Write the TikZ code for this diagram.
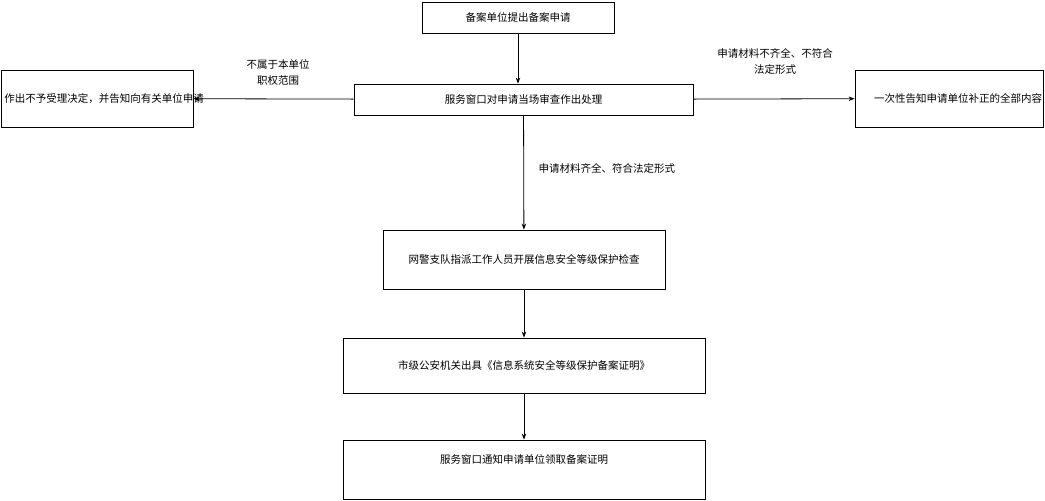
\documentclass[tikz,border=0pt]{standalone}
\usepackage{fontspec}
\newfontfamily\cjk{Noto Sans CJK SC}
\usetikzlibrary{arrows.meta}
\tikzset{
    stepbox/.style = {draw, thick, minimum height = #1, inner sep = 2pt, align = center},
    lbl/.style = {font = \cjk\fontsize{10.5pt}{16pt}\selectfont, align = center},
    flow/.style = {-{Stealth[length = 6pt]}, thick}
}
\begin{document}
\begin{tikzpicture}[x = 1pt, y = -1pt, font = \cjk\fontsize{10.5pt}{16pt}\selectfont]
        \useasboundingbox (0, 0) rectangle (1045, 501);
        \node (apply) [stepbox = 31pt, minimum width = 192pt] at (518, 17.5) {备案单位提出备案申请};
        \node (check) [stepbox = 31pt, minimum width = 339pt] at (523.5, 99.5) {服务窗口对申请当场审查作出处理};
        \node (reject) [stepbox = 57pt, minimum width = 192pt, text width = 185pt] at (97, 98.5) {作出不予受理决定，并告知向有关单位申请};
        \node (notify) [stepbox = 57pt, minimum width = 188pt, text width = 150pt] at (949, 98.5) {一次性告知申请单位补正的全部内容};
        \node (inspect) [stepbox = 59pt, minimum width = 282pt, text width = 270pt] at (524, 259.5) {网警支队指派工作人员开展信息安全等级保护检查};
        \node (cert) [stepbox = 55pt, minimum width = 362pt, text width = 350pt] at (524, 365.5) {市级公安机关出具《信息系统安全等级保护备案证明》};
        \node (fetch) [stepbox = 59pt, minimum width = 362pt] at (524, 469.5) {};
        \node (fetchtext) at (524, 460) {服务窗口通知申请单位领取备案证明};

        \draw[flow] (apply) -- (check.north -| apply);
        \draw[flow] (check) -- (reject);
        \draw[flow] (check) -- (notify);
        \draw[flow] (check) -- (inspect);
        \draw[flow] (inspect) -- (cert);
        \draw[flow] (cert) -- (fetch);

        \node (outside) [lbl] at (278, 72) {不属于本单位\\职权范围};
        \node (lacking) [lbl] at (775, 61) {申请材料不齐全、不符合\\法定形式};
        \node (complete) [lbl, anchor = west] at (535, 168) {申请材料齐全、符合法定形式};
\end{tikzpicture}
\end{document}
